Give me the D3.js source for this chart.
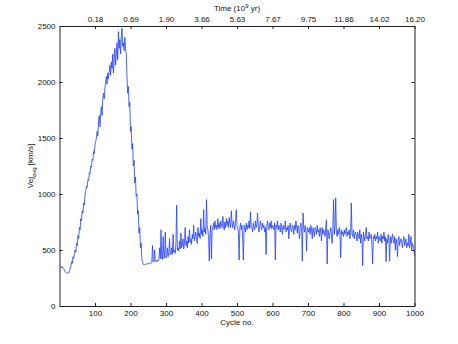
<!DOCTYPE html>
<html>
<head>
<meta charset="utf-8">
<script src="https://cdn.jsdelivr.net/npm/d3@7"></script>
<style>
html,body{margin:0;padding:0;background:#fff;}
svg{display:block;}
text{font-family:"Liberation Sans",Arial,Helvetica,sans-serif;}
</style>
</head>
<body>
<svg id="chart" width="458" height="344"></svg>
<script>
// Bottom axis tick values (cycle number) and top axis labels (time, 10^9 yr)
const cycleTicks = [100,200,300,400,500,600,700,800,900,1000];
const timeLabels = ["0.18","0.69","1.90","3.66","5.63","7.67","9.75","11.86","14.02","16.20"];
const yTicks = [0,500,1000,1500,2000,2500];

// Sampled every 2 cycles: cycle 2, 4, ..., 1000
const vej = [
355,348,340,352,335,330,318,305,300,296,
292,300,296,315,330,355,395,380,440,425,
470,500,480,560,540,630,600,700,680,780,
760,850,830,920,900,1000,1030,1070,1060,1130,
1120,1190,1180,1250,1240,1310,1300,1380,1360,1440,
1470,1500,1560,1520,1650,1700,1600,1720,1780,1700,
1850,1900,1850,1950,2000,2050,1980,2080,2030,2100,
2150,2060,2180,2120,2250,2080,2200,2300,2150,2250,
2350,2200,2450,2300,2380,2250,2400,2480,2320,2350,
2280,2400,2300,2250,2050,1900,1960,1780,1820,1560,
1600,1400,1450,1250,1300,1100,1150,980,1000,820,
850,650,700,520,560,420,390,372,370,368,
372,375,372,378,380,376,382,385,380,390,
540,395,392,500,398,405,395,410,400,415,
520,420,680,430,415,620,425,440,660,430,
450,520,440,480,600,455,470,520,460,640,
480,500,470,560,900,500,520,490,580,510,
650,520,540,600,510,560,700,540,580,520,
620,560,680,570,600,550,640,600,720,580,
620,660,600,560,700,620,650,600,780,640,
680,620,860,660,700,640,950,720,680,600,
400,650,720,420,680,700,740,680,760,700,
720,680,780,700,740,690,760,720,700,800,
720,680,750,700,780,720,760,700,790,730,
700,850,740,700,760,720,680,780,860,720,
700,650,410,700,740,680,720,600,410,720,
700,660,740,680,720,700,760,690,840,720,
700,660,740,700,680,760,700,720,830,700,
660,720,760,700,680,740,700,720,660,700,
460,720,760,700,680,740,700,760,690,720,
700,680,740,410,720,700,760,680,720,700,
660,740,700,640,720,680,700,760,660,700,
680,720,600,700,740,680,660,720,700,640,
720,680,760,700,650,720,680,600,700,740,
680,400,830,700,660,720,680,490,700,680,
660,700,640,720,680,600,700,660,620,700,
680,640,720,660,680,620,700,660,580,700,
640,680,660,620,700,770,375,680,640,600,
660,700,640,560,680,950,640,700,965,660,
620,680,640,700,660,430,680,640,660,620,
680,640,660,700,620,660,640,680,600,660,
920,640,620,680,600,640,660,620,580,660,
620,600,680,560,640,600,360,660,620,580,
640,700,600,620,580,660,600,620,640,560,
375,620,600,640,580,620,600,660,560,620,
600,580,640,560,620,600,660,580,620,396,
600,560,640,580,400,620,560,600,640,580,
560,620,500,600,560,440,580,620,540,580,
600,560,520,580,620,540,560,600,520,560,
540,640,520,560,620,500,560,540,520,450
];
const cycles = vej.map((v,i) => (i+1)*2);

const svg = d3.select("#chart");
const L = 59.5, R = 414.5, T = 26, B = 306;
const x = d3.scaleLinear().domain([0,1000]).range([L,R]);
const y = d3.scaleLinear().domain([0,2500]).range([B,T]);

// data line
const line = d3.line().x((d,i)=>x(cycles[i])).y(d=>y(d));
svg.append("path").datum(vej)
  .attr("fill","none").attr("stroke","#1f3dff").attr("stroke-width",0.8)
  .attr("stroke-linejoin","round")
  .attr("d", line);

const fs = "8px";
const axBottom = svg.append("g").attr("transform",`translate(0,${B})`)
  .call(d3.axisBottom(x).tickValues(cycleTicks).tickSizeInner(-3).tickSizeOuter(0).tickPadding(4).tickFormat(d3.format("d")));
const axTop = svg.append("g").attr("transform",`translate(0,${T})`)
  .call(d3.axisTop(x).tickValues(cycleTicks).tickSizeInner(-3).tickSizeOuter(0).tickPadding(4).tickFormat((d,i)=>timeLabels[i]));
const axLeft = svg.append("g").attr("transform",`translate(${L},0)`)
  .call(d3.axisLeft(y).tickValues(yTicks).tickSizeInner(-3).tickSizeOuter(0).tickPadding(4).tickFormat(d3.format("d")));
const axRight = svg.append("g").attr("transform",`translate(${R},0)`)
  .call(d3.axisRight(y).tickValues(yTicks).tickSizeInner(-3).tickSizeOuter(0).tickFormat(""));

[axBottom, axTop, axLeft, axRight].forEach(g=>{
  g.selectAll("path.domain").attr("stroke","#222").attr("stroke-width",1);
  g.selectAll(".tick line").attr("stroke","#222").attr("stroke-width",1);
  g.selectAll("text").attr("font-size",fs).attr("fill","#111")
    .style("font-family","'Liberation Sans',Arial,sans-serif");
});

svg.append("text").attr("x",237).attr("y",325).attr("text-anchor","middle")
  .attr("font-size",fs).attr("fill","#111").text("Cycle no.");

const tt = svg.append("text").attr("x",237).attr("y",11).attr("text-anchor","middle")
  .attr("font-size",fs).attr("fill","#111");
tt.append("tspan").text("Time (10");
tt.append("tspan").attr("dy",-3).attr("font-size","6px").text("9");
tt.append("tspan").attr("dy",3).text(" yr)");

const yl = svg.append("text").attr("transform","translate(33,166) rotate(-90)")
  .attr("text-anchor","middle").attr("font-size",fs).attr("fill","#111");
yl.append("tspan").text("Vej");
yl.append("tspan").attr("dy",2.5).attr("font-size","6px").text("avg");
yl.append("tspan").attr("dy",-2.5).text(" [km/s]");
</script>
</body>
</html>
